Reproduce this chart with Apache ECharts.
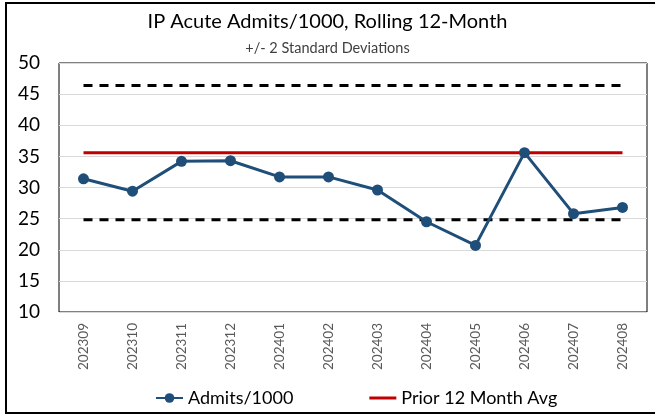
<!DOCTYPE html>
<html>
<head>
<meta charset="utf-8">
<script src="https://cdn.jsdelivr.net/npm/echarts@6/dist/echarts.min.js"></script>
<style>
  html, body { margin: 0; padding: 0; background: #fff; }
  #chart { width: 655px; height: 415px; }
</style>
</head>
<body>
<div id="chart"></div>
<script>
// Monthly periods (YYYYMM)
const months = ['202309','202310','202311','202312','202401','202402','202403','202404','202405','202406','202407','202408'];
// Rolling 12-month inpatient acute admits per 1000
const admits = [31.4, 29.4, 34.2, 34.3, 31.7, 31.7, 29.6, 24.5, 20.7, 35.6, 25.8, 26.8];
// Prior 12-month average and +/- 2 SD control limits
const priorAvg = 35.6;
const upperLimit = 46.4;
const lowerLimit = 24.8;
// Y axis range and step
const yMin = 10, yMax = 50, yStep = 5;

const FONT = 'Lato, "Open Sans", sans-serif';
const flat = v => months.map(() => v);
// thin horizontal bar icon; the corner dots keep the box 12px tall so the bar stays thin
const lineIcon = 'path://M0,0H0.01V0.01H0Z M0,4.5H27V7.5H0Z M0,11.99H0.01V12H0Z';

const chart = echarts.init(document.getElementById('chart'), null, { renderer: 'canvas' });
chart.setOption({
  animation: false,
  backgroundColor: '#fff',
  title: [
    { text: 'IP Acute Admits/1000, Rolling 12-Month', left: 'center', top: 7,
      textStyle: { fontFamily: FONT, fontSize: 20, fontWeight: 'normal', color: '#000' } },
    { text: '+/- 2 Standard Deviations', left: 'center', top: 36,
      textStyle: { fontFamily: FONT, fontSize: 14.5, fontWeight: 'normal', color: '#404040' } }
  ],
  graphic: [
    { type: 'rect', shape: { x: 6, y: 3, width: 660, height: 410 },
      style: { fill: 'none', stroke: '#000', lineWidth: 2 }, silent: true }
  ],
  legend: {
    bottom: 3, left: 150, itemGap: 76, itemWidth: 27, itemHeight: 12,
    textStyle: { fontFamily: FONT, fontSize: 18, color: '#000' },
    data: [
      { name: 'Admits/1000' },
      { name: 'Prior 12 Month Avg', icon: lineIcon }
    ]
  },
  grid: { left: 59, right: 8, top: 63, bottom: 103, show: true, borderColor: '#000', borderWidth: 1 },
  xAxis: {
    type: 'category', data: months, boundaryGap: true,
    axisLine: { show: false }, axisTick: { show: false },
    axisLabel: { rotate: 90, fontFamily: FONT, fontSize: 13.5, color: '#595959', margin: 11 }
  },
  yAxis: {
    type: 'value', min: yMin, max: yMax, interval: yStep,
    axisLine: { show: false }, axisTick: { show: false },
    axisLabel: { fontFamily: FONT, fontSize: 19, color: '#000', margin: 19 },
    splitLine: { lineStyle: { color: '#d9d9d9', width: 1 } }
  },
  series: [
    { name: 'Upper', type: 'line', data: flat(upperLimit), symbol: 'none', silent: true,
      lineStyle: { color: '#000', width: 3, type: [9, 7] } },
    { name: 'Lower', type: 'line', data: flat(lowerLimit), symbol: 'none', silent: true,
      lineStyle: { color: '#000', width: 3, type: [9, 7] } },
    { name: 'Prior 12 Month Avg', type: 'line', data: flat(priorAvg), symbol: 'none',
      lineStyle: { color: '#c00000', width: 3 }, itemStyle: { color: '#c00000' } },
    { name: 'Admits/1000', type: 'line', data: admits, symbol: 'circle', symbolSize: 11,
      lineStyle: { color: '#1f4e79', width: 3 }, itemStyle: { color: '#1f4e79' }, z: 5 }
  ]
});
</script>
</body>
</html>
